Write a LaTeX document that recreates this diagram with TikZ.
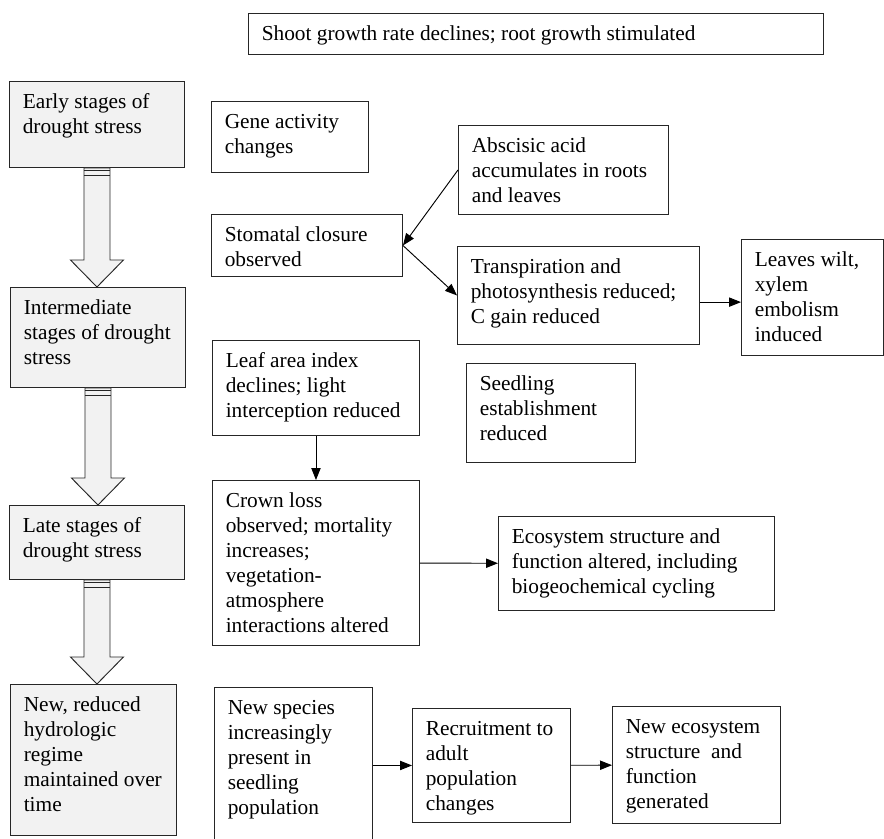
\documentclass[tikz,border=0pt]{standalone}
\usepackage{fontspec}
\setmainfont{Liberation Serif}
\usetikzlibrary{calc, arrows.meta}
% box text: width and height of the box in px, lines split by \\
\newcommand{\boxlines}[3]{\parbox[t][\dimexpr #2pt*3/4-14pt\relax][t]{\dimexpr #1pt*3/4-10pt\relax}{\hspace*{5pt}\begin{tabular}[t]{@{}l@{}}#3\end{tabular}}}

\begin{document}
\begin{tikzpicture}[
    x=0.75pt, y=-0.75pt,
    box/.style={draw=black!85, line width=0.7pt, anchor=north west, inner xsep=5pt, inner ysep=7pt, font=\fontsize{16}{18.75}\selectfont},
    stage/.style={box, fill=gray!10},
    blockarrow/.style={draw=black!85, line width=0.7pt, fill=gray!10},
    arrow/.style={-{Triangle[length=9pt, width=7pt]}, line width=0.7pt}
]
    \useasboundingbox (0,0) rectangle (884,838);

    % Top
    \node[box] (shoot) at (248,13) {\boxlines{575}{41}{Shoot growth rate declines; root growth stimulated}};

    % Stages
    \node[stage] (early) at (9,81) {\boxlines{175}{86}{Early stages of\\drought stress}};
    \node[stage] (inter) at (10,287) {\boxlines{175}{100}{Intermediate\\stages of drought\\stress}};
    \node[stage] (late) at (9,505) {\boxlines{175}{74}{Late stages of\\drought stress}};
    \node[stage] (regime) at (10,684) {\boxlines{166}{151}{New, reduced\\hydrologic\\regime\\maintained over\\time}};

    % Responses
    \node[box] (gene) at (211,101) {\boxlines{157}{71}{Gene activity\\changes}};
    \node[box] (aba) at (458,125) {\boxlines{210}{89}{Abscisic acid\\accumulates in roots\\and leaves}};
    \node[box] (stomata) at (211,214) {\boxlines{191}{62}{Stomatal closure\\observed}};
    \node[box] (transp) at (457,246) {\boxlines{242}{98}{Transpiration and\\photosynthesis reduced;\\C gain reduced}};
    \node[box] (wilt) at (741,239) {\boxlines{142}{116}{Leaves wilt,\\xylem\\embolism\\induced}};
    \node[box] (lai) at (212,340) {\boxlines{207}{95}{Leaf area index\\declines; light\\interception reduced}};
    \node[box] (seedling) at (466,363) {\boxlines{169}{99}{Seedling\\establishment\\reduced}};
    \node[box] (crown) at (212,480) {\boxlines{207}{165}{Crown loss\\observed; mortality\\increases;\\vegetation-\\atmosphere\\interactions altered}};
    \node[box] (ecosys) at (498,516) {\boxlines{276}{94}{Ecosystem structure and\\function altered, including\\biogeochemical cycling}};
    \node[box] (newsp) at (214,687) {\boxlines{158}{160}{New species\\increasingly\\present in\\seedling\\population}};
    \node[box] (recruit) at (412,708) {\boxlines{158}{114}{Recruitment to\\adult\\population\\changes}};
    \node[box] (neweco) at (612,706) {\boxlines{168}{117}{New ecosystem\\structure~ and\\function\\generated}};

    % Block arrows between stages
    \foreach \a/\b in {early/inter, inter/late, late/regime} {
        \coordinate (t) at (\a.south);
        \coordinate (h) at (\a.south |- \b.north);
        \draw[blockarrow] ($(t)+(-13,0)$) -- ($(h)+(-13,-27)$) -- ($(h)+(-26.5,-27)$) -- (h)
            -- ($(h)+(26.5,-27)$) -- ($(h)+(13,-27)$) -- ($(t)+(13,0)$) -- cycle;
        \draw[draw=black!85, line width=0.7pt] ($(t)+(-13,3)$) -- ($(t)+(13,3)$) ($(t)+(-13,8)$) -- ($(t)+(13,8)$);
    }

    % Connections
    \draw[arrow] (aba.west) -- (stomata.east);
    \draw[arrow] (stomata.east) -- (transp.west);
    \draw[arrow] ([yshift=-5pt]transp.east) -- ([yshift=-5pt]transp.east -| wilt.west);
    \draw[arrow] (lai) -- (crown);
    \draw[arrow] (crown) -- (ecosys);
    \draw[arrow] (newsp.east |- recruit.west) -- (recruit.west);
    \draw[arrow] (recruit) -- (neweco);

\end{tikzpicture}
\end{document}
